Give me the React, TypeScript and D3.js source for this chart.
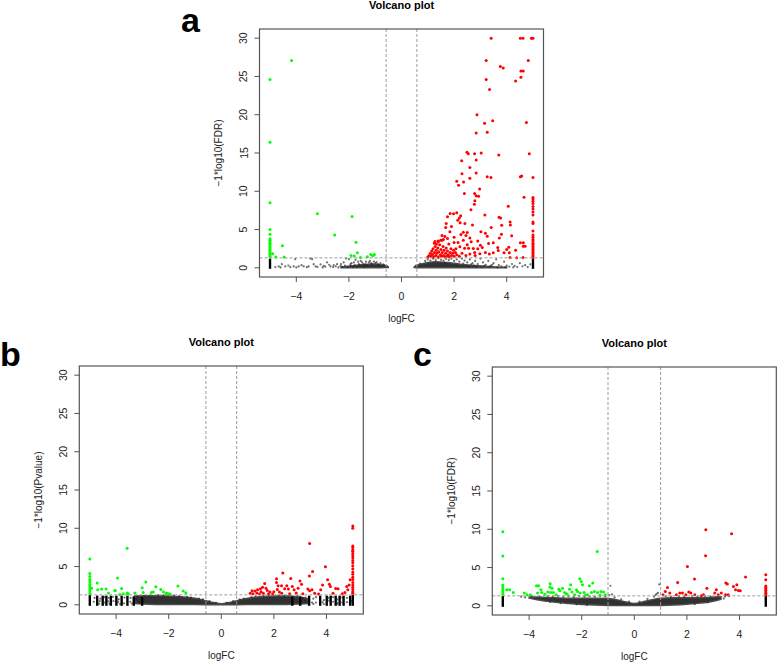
import React from "react";
import * as d3 from "d3";

// ---------------- DATA ----------------
const xTicks = [-4, -2, 0, 2, 4];
const yTicks = [0, 5, 10, 15, 20, 25, 30];
const titles = ["Volcano plot", "Volcano plot", "Volcano plot"];
const yLabels = ["\u22121*log10(FDR)", "\u22121*log10(Pvalue)", "\u22121*log10(FDR)"];
const xLabel = "logFC";
const letters = ["a", "b", "c"];
const fcCutoffs = [0.585, 0.585, 1.0];
const sigCutoff = 1.3;

// Panel a
const aGreen: number[][] = [
  [-4.18, 27.1], [-5, 24.6], [-5, 16.4], [-5, 8.5], [-5, 5.0], [-5, 4.4],
  [-5, 3.8], [-5, 3.6], [-5, 3.4], [-5, 3.2], [-5, 3.0], [-5, 2.8], [-5, 2.6], [-5, 2.4], [-5, 2.2], [-5, 2.0], [-5, 1.8], [-5, 1.6], [-5, 1.45],
  [-3.2, 7.05], [-1.88, 6.7], [-2.54, 4.3], [-1.73, 3.35], [-4.53, 2.87], [-4.9, 1.83], [-4.46, 1.4], [-4.78, 1.4],
  [-1.68, 1.96], [-1.92, 1.62], [-1.8, 1.53], [-1.56, 1.35], [-1.3, 1.44], [-1.17, 1.75], [-1.09, 1.57], [-1.03, 1.75],
];
const aRed: number[][] = [
  [3.41, 30], [4.52, 30], [4.62, 30], [4.94, 30], [5, 30],
  [3.22, 27.1], [4.82, 27.1], [3.76, 26.3], [3.87, 26.1], [4.54, 25.7], [4.63, 25.7], [3.22, 24.6], [4.54, 24.9], [4.34, 24.4], [3.35, 23.3],
  [2.87, 20.0], [3.16, 18.9], [3.47, 19.2], [4.75, 19.0], [2.84, 17.6], [3.26, 17.7],
  [2.49, 15.1], [2.54, 14.9], [2.78, 14.9], [3.03, 15.0], [3.7, 14.75], [4.86, 14.9], [2.29, 14.0], [2.84, 14.1], [2.6, 13.1], [2.3, 12.3], [2.84, 12.4],
  [2.1, 11.3], [2.17, 10.8], [2.36, 11.2], [2.6, 11.7], [3.26, 11.9], [3.4, 11.8], [4.52, 11.9], [4.57, 12.0], [5, 11.8],
  [2.97, 10.3], [2.39, 9.7], [2.78, 9.7], [2.84, 9.4], [2.79, 8.75], [2.77, 8.3], [2.93, 9.36], [4.66, 9.23],
  [4.06, 8.05], [2.64, 7.6], [1.85, 7.1], [1.98, 7.05], [2.1, 7.2], [2.25, 6.8], [2.2, 6.5], [3.17, 6.9], [3.71, 6.6], [3.77, 6.5], [1.75, 6.66],
  [4.13, 6.0], [4.14, 5.6], [2.7, 5.6], [2.41, 5.8], [3.41, 5.27], [2.14, 6.2], [2.23, 5.9], [1.7, 5.8], [1.68, 5.27], [1.9, 5.4], [3.81, 5.57],
  [3.02, 4.7], [3.19, 4.5], [3.26, 4.14], [3.8, 4.4], [3.72, 3.9], [2.26, 4.36], [2.35, 4.66], [2.45, 4.23], [1.54, 4.23], [1.59, 3.7], [1.49, 3.6], [1.75, 3.84], [1.84, 4.7],
  [4.19, 4.18], [4.52, 3.26], [4.63, 3.26], [4.63, 2.83], [4.7, 2.83], [1.39, 3.5], [1.27, 3.45], [1.33, 3.1], [3.49, 3.26], [3.31, 3.18],
  [3.0, 2.96], [3.07, 2.66], [2.9, 2.48], [2.73, 2.53], [2.55, 2.57], [2.4, 2.57], [2.22, 2.74], [2.07, 2.48],
  [3.66, 2.66], [4.0, 2.4], [4.08, 2.7], [4.34, 2.31], [4.1, 1.96], [3.9, 1.96], [3.68, 2.27],
  [3.49, 1.96], [3.34, 1.79], [3.19, 2.0], [2.98, 1.83], [2.78, 2.0], [4.62, 1.36], [4.38, 1.33], [4.13, 1.36],
  [5, 9.2], [5, 9.0], [5, 8.7], [5, 8.4], [5, 8.0], [5, 7.7], [5, 7.3], [5, 6.9], [5, 6.0], [5, 5.8], [5, 4.8], [5, 4.3], [5, 4.0],
  [5, 3.7], [5, 3.5], [5, 3.2], [5, 3.0], [5, 2.8], [5, 2.6], [5, 2.4], [5, 2.2], [5, 2.0], [5, 1.8], [5, 1.6], [5, 1.4],
  [1.0, 1.4], [1.05, 1.6], [1.1, 1.9], [1.12, 1.5], [1.15, 2.2], [1.18, 1.75], [1.2, 2.5], [1.22, 1.4], [1.25, 2.0], [1.28, 2.8],
  [1.3, 1.6], [1.32, 2.3], [1.35, 1.9], [1.38, 2.6], [1.4, 1.45], [1.42, 2.1], [1.45, 3.0], [1.48, 1.7], [1.5, 2.4], [1.52, 1.5],
  [1.55, 2.0], [1.58, 2.8], [1.6, 1.6], [1.62, 2.3], [1.65, 1.4], [1.68, 1.9], [1.7, 2.6], [1.72, 1.5], [1.75, 2.2], [1.78, 1.7],
  [1.8, 3.1], [1.82, 1.4], [1.85, 2.0], [1.88, 2.5], [1.9, 1.6], [1.95, 1.9], [1.98, 2.3], [2.0, 1.5], [2.05, 2.0], [2.1, 1.7],
  [2.15, 3.3], [2.2, 1.5], [2.3, 1.9], [2.35, 3.6], [2.45, 1.6], [2.5, 3.0], [2.6, 1.8], [2.65, 3.4], [2.8, 1.6], [2.9, 3.5],
  [1.4, 3.4], [1.55, 3.6], [1.25, 3.2], [1.65, 4.1], [2.0, 4.0], [2.0, 3.3], [2.5, 4.6], [2.6, 3.9],
];
const aBlack: number[][] = [
  [-4.67, 0.18], [-4.55, 0.48], [-4.42, 0.18], [-4.23, 0.09], [-4.04, 1.13], [-4.1, 0.18], [-3.91, 0.18], [-3.72, 0.18], [-3.53, 0.18],
  [-3.47, 1.22], [-3.4, 1.13], [-3.34, 0.48], [-3.27, 0.18], [-3.08, 0.44], [-2.96, 0.26], [-2.83, 0.7], [-2.7, 0.18], [-2.58, 0.35],
  [-2.45, 0.48], [-2.32, 0.26], [-2.2, 0.7], [-2.11, 1.22], [-2.0, 1.13], [-1.94, 0.48], [-1.81, 0.7], [-1.75, 1.05], [-1.62, 0.48],
  [-1.5, 0.7], [-1.37, 0.44], [-1.24, 0.7], [-1.12, 0.44], [-0.99, 0.61], [-0.86, 0.35], [-0.73, 0.26], [-0.61, 0.18],
  [-4.8, 0.1], [-4.6, 0.05], [-4.3, 0.3], [-4.0, 0.05], [-3.8, 0.35], [-3.6, 0.08], [-3.2, 0.12], [-3.0, 0.05], [-2.9, 0.15],
  [-2.75, 0.4], [-2.6, 0.1], [-2.5, 0.2], [-2.4, 0.05], [-2.3, 0.5], [-2.25, 0.12], [-2.15, 0.3], [-2.05, 0.08], [-1.95, 0.25],
  [-1.9, 0.6], [-1.85, 0.1], [-1.78, 0.35], [-1.7, 0.15], [-1.65, 0.8], [-1.58, 0.25], [-1.55, 0.9], [-1.45, 0.5], [-1.42, 0.1],
  [-1.35, 0.8], [-1.3, 0.3], [-1.2, 0.9], [-1.15, 0.6], [-1.05, 0.8], [-0.95, 0.75], [-0.9, 0.5], [-0.8, 0.6], [-0.7, 0.45],
  [-0.65, 0.35], [-0.55, 0.2],
  [0.55, 0.3], [0.7, 0.55], [0.9, 0.9], [1.0, 1.1], [1.1, 0.95], [1.2, 1.2], [1.3, 1.0], [1.4, 1.25], [1.5, 1.05], [1.6, 0.95],
  [1.7, 1.15], [1.8, 1.0], [1.9, 1.2], [2.0, 0.9], [2.1, 1.1], [2.2, 0.8], [2.3, 1.2], [2.4, 0.95], [2.5, 0.7], [2.6, 1.1],
  [2.7, 0.6], [2.8, 0.9], [2.9, 0.5], [3.0, 1.2], [3.1, 0.7], [3.2, 0.4], [3.3, 0.9], [3.4, 0.3], [3.5, 0.6], [3.6, 1.1],
  [3.7, 0.35], [3.8, 0.2], [3.9, 0.8], [4.0, 0.3], [4.1, 0.15], [4.2, 0.5], [4.3, 0.25], [4.4, 0.1], [4.5, 0.6], [4.6, 0.2],
  [4.7, 0.35], [4.8, 0.1], [4.9, 0.45], [3.05, 0.1], [3.35, 0.15], [3.65, 0.05], [3.95, 0.1], [4.25, 0.05], [2.55, 0.2],
  [2.75, 0.3], [2.85, 0.1], [3.15, 0.25], [3.45, 0.4], [1.65, 0.6], [2.35, 0.55], [2.65, 0.45],
];
const aCloudL: number[][] = [
  [-2.3, 0, 0.12], [-2.0, 0, 0.22], [-1.7, 0, 0.35], [-1.4, 0, 0.45], [-1.1, 0, 0.5], [-0.85, 0.01, 0.45], [-0.65, 0.02, 0.3], [-0.5, 0.04, 0.12],
];
const aCloudR: number[][] = [
  [0.48, 0.04, 0.12], [0.6, 0.01, 0.35], [0.8, 0, 0.55], [1.0, 0, 0.7], [1.3, 0, 0.8], [1.6, 0, 0.75], [2.0, 0, 0.6],
  [2.4, 0, 0.42], [2.8, 0, 0.3], [3.2, 0, 0.2], [3.6, 0, 0.12], [4.0, 0, 0.08],
];
const aStripes: number[][] = [[-5, 1.2], [5, 1.25]];

// Panel b
const bGreen: number[][] = [
  [-5, 5.98], [-5, 4.1], [-5, 3.7], [-5, 3.3], [-5, 3.0], [-5, 2.7], [-5, 2.4], [-5, 2.1], [-5, 1.8], [-5, 1.5],
  [-3.58, 7.4], [-3.95, 3.49], [-4.72, 2.84], [-4.93, 2.18], [-4.7, 1.96], [-4.55, 2.05], [-4.38, 2.05], [-4.29, 1.53],
  [-4.03, 1.87], [-3.79, 2.13], [-3.86, 1.35], [-3.58, 1.53], [-3.29, 1.53], [-3.01, 2.22], [-2.87, 2.97], [-2.97, 1.61],
  [-2.59, 1.66], [-2.49, 2.36], [-2.3, 2.0], [-2.2, 1.66], [-2.08, 1.53], [-2.0, 1.44], [-1.65, 2.45], [-1.45, 1.79],
  [-1.35, 1.57], [-3.54, 1.44], [-3.73, 1.44], [-2.66, 1.61], [-4.05, 1.83], [-2.1, 1.44], [-1.95, 1.4],
];
const bRed: number[][] = [
  [5, 10.3], [5, 10.0], [5, 7.7], [5, 7.5], [5, 7.2], [5, 7.0], [5, 6.7], [5, 6.4], [5, 6.1], [5, 5.8], [5, 5.5], [5, 5.1],
  [5, 4.7], [5, 4.3], [5, 4.0], [5, 3.6], [5, 3.3], [5, 2.9], [5, 2.6], [5, 2.3], [5, 2.0], [5, 1.7], [5, 1.5],
  [3.36, 8.0], [3.96, 4.97], [3.47, 4.36], [3.35, 3.75], [2.34, 4.15], [2.64, 3.44], [2.1, 3.4], [2.1, 2.92], [2.16, 2.49],
  [2.99, 3.1], [3.05, 2.7], [2.92, 2.18], [4.04, 3.27], [4.11, 2.7], [4.15, 2.4], [3.85, 2.58], [3.78, 1.96], [4.35, 2.13],
  [4.44, 2.09], [4.77, 2.4], [4.86, 2.58], [4.9, 3.27], [4.81, 1.96], [2.29, 2.49], [2.41, 2.09], [2.55, 2.05], [2.49, 2.49],
  [2.7, 2.4], [2.77, 1.96], [3.29, 2.05], [3.36, 1.83], [3.45, 1.96],
  [1.65, 2.79], [1.7, 2.18], [1.57, 2.31], [1.49, 2.09], [1.38, 1.96], [1.28, 1.79], [1.17, 1.83], [1.75, 1.87], [1.51, 1.7],
  [1.85, 1.66], [2.0, 1.7], [2.13, 2.0], [2.21, 1.66],
  [1.1, 1.5], [1.2, 1.45], [1.35, 1.55], [1.45, 1.4], [1.6, 1.5], [1.8, 1.45], [1.95, 1.4], [2.3, 1.5], [2.6, 1.45],
  [2.85, 1.55], [3.1, 1.45], [3.55, 1.5], [3.7, 1.4], [4.25, 1.5], [4.6, 1.45], [4.7, 1.6],
];
const bBlack: number[][] = [
  [-4.85, 0.4], [-4.6, 0.8], [-4.45, 0.3], [-4.28, 0.9], [-4.1, 0.5], [-3.9, 0.7], [-3.7, 0.2], [-3.45, 0.9], [-3.2, 1.05],
  [-3.15, 0.4], [-2.9, 1.15], [-2.7, 1.25], [-2.4, 1.28], [-2.2, 1.25], [-1.8, 1.2], [-1.6, 1.15], [-1.3, 1.05], [-1.15, 0.95],
  [-0.85, 0.8], [-0.7, 0.7], [-0.45, 0.5], [-0.2, 0.25], [0.2, 0.25], [0.45, 0.5], [0.7, 0.7], [0.85, 0.8], [1.15, 1.0],
  [1.3, 1.1], [1.6, 1.2], [1.8, 1.25], [2.2, 1.25], [2.4, 1.2], [2.6, 1.28], [2.9, 1.2], [3.1, 0.9], [3.2, 0.5], [3.5, 0.8],
  [3.6, 0.3], [3.9, 0.6], [4.08, 0.9], [4.25, 0.4], [4.42, 0.7], [4.6, 0.3], [4.78, 0.9], [4.95, 0.5],
  [-4.82, 0.9], [-4.62, 0.5], [-4.44, 1.0], [-4.3, 0.45], [-4.12, 1.05], [-3.92, 0.35], [-3.68, 0.95], [-3.46, 0.4],
  [-3.25, 0.75], [-3.1, 0.25], [-2.95, 0.6], [-3.4, 0.15], [-3.85, 0.1], [-4.25, 0.12], [-4.65, 0.15],
  [3.2, 0.95], [3.45, 0.3], [3.6, 1.0], [3.85, 0.35], [4.1, 0.55], [4.25, 1.0], [4.42, 0.25], [4.6, 0.95], [4.78, 0.35],
  [3.5, 0.12], [3.9, 0.1], [4.4, 0.08], [2.95, 0.3], [3.05, 0.75],
];
const bCloud: number[][] = [
  [-3.3, 0.15, 1.15], [-3.0, 0.1, 1.2], [-2.5, 0.05, 1.2], [-2.0, 0.04, 1.15], [-1.5, 0.03, 1.05], [-1.0, 0.02, 0.85],
  [-0.6, 0.01, 0.55], [-0.3, 0, 0.3], [0, 0, 0.15], [0.3, 0, 0.3], [0.6, 0.01, 0.55], [1.0, 0.02, 0.85], [1.5, 0.03, 1.05],
  [2.0, 0.04, 1.15], [2.5, 0.05, 1.15], [3.0, 0.1, 1.0], [3.3, 0.15, 0.8],
];
const bStripes: number[][] = [
  [-5, 1.3], [-4.72, 1.2], [-4.51, 1.2], [-4.37, 1.2], [-4.2, 1.2], [-3.99, 1.2], [-3.79, 1.2], [-3.57, 1.2], [-3.33, 1.1], [-3.01, 1.0],
  [2.7, 1.1], [3.0, 1.1], [3.34, 1.2], [3.76, 1.2], [4.01, 1.2], [4.16, 1.2], [4.35, 1.2], [4.5, 1.2], [4.65, 1.2], [4.9, 1.2], [5, 1.3],
];

// Panel c
const cGreen: number[][] = [
  [-5, 9.68], [-5, 6.5], [-5, 3.53], [-5, 2.7], [-5, 2.4], [-5, 2.1], [-5, 1.8], [-5, 1.5],
  [-4.85, 2.09], [-4.74, 2.09], [-4.6, 1.74], [-1.41, 7.1], [-4.18, 1.66], [-4.08, 1.44], [-3.95, 1.44], [-3.72, 2.62],
  [-3.64, 2.62], [-3.55, 2.09], [-3.52, 1.74], [-3.68, 1.66], [-3.2, 2.88], [-3.21, 2.45], [-3.13, 2.31], [-3.29, 1.79],
  [-3.18, 1.74], [-3.08, 1.74], [-2.87, 2.18], [-2.83, 1.96], [-2.97, 1.44], [-2.73, 2.31], [-2.65, 1.74], [-2.46, 2.18],
  [-2.37, 1.79], [-2.42, 2.75], [-2.27, 1.44], [-2.07, 3.53], [-2.02, 3.18], [-1.97, 2.75], [-2.16, 1.87], [-2.06, 1.66],
  [-1.91, 1.74], [-1.78, 1.44], [-1.71, 2.62], [-1.58, 2.97], [-1.63, 1.74], [-1.52, 1.87], [-1.4, 1.74], [-1.27, 1.87],
  [-1.17, 1.79], [-3.4, 1.5], [-2.55, 1.5], [-1.85, 1.4], [-1.1, 1.45], [-1.3, 1.4], [-2.2, 2.1], [-2.6, 1.6],
];
const cRed: number[][] = [
  [2.72, 9.94], [3.7, 9.42], [2.71, 6.54], [2.02, 5.14], [2.29, 3.49], [4.23, 3.75], [1.65, 3.05], [3.48, 2.97], [3.54, 2.84],
  [3.9, 2.75], [3.77, 2.53], [2.76, 2.31], [3.12, 2.09], [3.85, 2.09], [3.96, 2.0], [4.03, 1.96], [1.26, 2.4], [1.18, 1.87],
  [1.09, 1.44], [1.35, 1.66], [1.6, 1.44], [1.73, 1.66], [1.83, 1.66], [1.96, 1.44], [2.07, 1.79], [2.15, 1.66], [2.3, 1.44],
  [2.63, 1.44], [2.55, 1.31], [3.06, 1.66], [3.19, 1.44], [3.31, 1.66], [3.47, 1.44], [3.57, 1.44],
  [5, 4.06], [5, 3.4], [5, 2.6], [5, 2.4], [5, 2.2], [5, 2.0], [5, 1.8], [5, 1.6], [5, 1.4],
];
const cBlack: number[][] = [
  [-4.3, 1.2], [-4.15, 1.1], [-3.9, 1.25], [-3.6, 1.2], [-3.3, 1.25], [-3.1, 1.2], [-2.9, 1.28], [-2.7, 1.2], [-2.5, 1.25],
  [-2.3, 1.15], [-2.1, 1.28], [-1.9, 1.2], [-1.7, 1.25], [-1.5, 1.2], [-1.3, 1.25], [-1.1, 1.2], [-0.95, 1.4], [-0.91, 2.62],
  [-0.85, 1.5], [-0.75, 1.1], [-0.5, 0.85], [-0.2, 0.55], [0.2, 0.55], [0.5, 0.9], [0.75, 1.2], [0.85, 1.55], [0.95, 2.8],
  [0.9, 1.7], [0.8, 1.4], [1.2, 1.25], [1.4, 1.2], [1.7, 1.25], [1.9, 1.2], [2.2, 1.28], [2.4, 1.2], [2.7, 1.25], [2.9, 1.2],
  [3.2, 1.25], [3.45, 1.2], [3.6, 1.25], [-3.2, 0.5], [-2.8, 0.35], [-2.2, 0.2], [-1.8, 0.12], [2.3, 0.22], [2.8, 0.45], [3.4, 0.95],
];
const cCloud: number[][] = [
  [-4.0, 1.0, 1.15], [-3.7, 0.8, 1.15], [-3.4, 0.62, 1.1], [-3.0, 0.45, 1.05], [-2.5, 0.3, 1.0], [-2.0, 0.18, 1.0],
  [-1.5, 0.1, 1.0], [-1.0, 0.05, 0.95], [-0.6, 0.03, 0.75], [-0.3, 0.02, 0.5], [0, 0.02, 0.32], [0.3, 0.02, 0.5],
  [0.6, 0.03, 0.75], [1.0, 0.05, 1.0], [1.5, 0.1, 1.05], [2.0, 0.2, 1.05], [2.5, 0.35, 1.05], [3.0, 0.6, 1.15], [3.3, 0.85, 1.2],
];
const cStripes: number[][] = [[-5, 1.3], [5, 1.3]];

// ---------------- LAYOUT ----------------
const W = 778;
const H = 664;
const FONT = "'Liberation Sans', Arial, Helvetica, sans-serif";

const layouts = [
  { x0: 259.5, x1: 543.5, y0: 29, y1: 277, lx: 181, ly: 32 },
  { x0: 79.3, x1: 363.3, y0: 366, y1: 614, lx: 0, ly: 366 },
  { x0: 492.3, x1: 776.3, y0: 367, y1: 615, lx: 413, ly: 366 },
];

const panelData = [
  { green: aGreen, red: aRed, black: aBlack, clouds: [aCloudL, aCloudR], stripes: aStripes },
  { green: bGreen, red: bRed, black: bBlack, clouds: [bCloud], stripes: bStripes },
  { green: cGreen, red: cRed, black: cBlack, clouds: [cCloud], stripes: cStripes },
];

function Panel({ i }: { i: number }) {
  const L = layouts[i];
  const D = panelData[i];
  const x = d3.scaleLinear().domain([-5.4, 5.4]).range([L.x0, L.x1]);
  const y = d3.scaleLinear().domain([-1.2, 31.2]).range([L.y1, L.y0]);
  const area = d3
    .area<number[]>()
    .x((d) => x(d[0]))
    .y0((d) => y(d[1]))
    .y1((d) => y(d[2]))
    .curve(d3.curveMonotoneX);
  const fmt = d3.format("");
  const cx = (L.x0 + L.x1) / 2;
  const cy = (L.y0 + L.y1) / 2;
  const fc = fcCutoffs[i];
  return (
    <g>
      <text x={L.lx} y={L.ly} fontFamily={FONT} fontWeight="bold" fontSize={34} fill="#000">
        {letters[i]}
      </text>
      <text x={cx} y={L.y0 - 20} textAnchor="middle" fontFamily={FONT} fontWeight="bold" fontSize={11} fill="#000">
        {titles[i]}
      </text>
      {D.clouds.map((c, k) => (
        <path key={"c" + k} d={area(c) || ""} fill="#151515" stroke="#333" strokeWidth={1.4} opacity={0.88} />
      ))}
      {D.stripes.map((s, k) => (
        <line key={"s" + k} x1={x(s[0])} x2={x(s[0])} y1={y(0) + 1} y2={y(s[1])} stroke="#000" strokeWidth={2.4} />
      ))}
      {D.black.map((p, k) => (
        <circle key={"b" + k} cx={x(p[0])} cy={y(p[1])} r={1.1} fill="#222" opacity={0.65} />
      ))}
      {D.green.map((p, k) => (
        <circle key={"g" + k} cx={x(p[0])} cy={y(p[1])} r={1.5} fill="#00FF00" />
      ))}
      {D.red.map((p, k) => (
        <circle key={"r" + k} cx={x(p[0])} cy={y(p[1])} r={1.5} fill="#FF0000" />
      ))}
      {[-fc, fc].map((v, k) => (
        <line key={"v" + k} x1={x(v)} x2={x(v)} y1={L.y0} y2={L.y1} stroke="#9a9a9a" strokeWidth={1} strokeDasharray="3,2" />
      ))}
      <line x1={L.x0} x2={L.x1} y1={y(sigCutoff)} y2={y(sigCutoff)} stroke="#9a9a9a" strokeWidth={1} strokeDasharray="3,2" />
      <rect x={L.x0} y={L.y0} width={L.x1 - L.x0} height={L.y1 - L.y0} fill="none" stroke="#555" strokeWidth={1.2} />
      {xTicks.map((t) => (
        <g key={"xt" + t}>
          <line x1={x(t)} x2={x(t)} y1={L.y1} y2={L.y1 + 5} stroke="#555" strokeWidth={1} />
          <text x={x(t)} y={L.y1 + 18.5} textAnchor="middle" dominantBaseline="central" fontFamily={FONT} fontSize={10.5} fill="#222">
            {fmt(t)}
          </text>
        </g>
      ))}
      {yTicks.map((t) => (
        <g key={"yt" + t}>
          <line x1={L.x0} x2={L.x0 - 5} y1={y(t)} y2={y(t)} stroke="#555" strokeWidth={1} />
          <text
            x={L.x0 - 16}
            y={y(t)}
            textAnchor="middle"
            dominantBaseline="central"
            fontFamily={FONT}
            fontSize={10.5}
            fill="#222"
            transform={`rotate(-90, ${L.x0 - 16}, ${y(t)})`}
          >
            {t}
          </text>
        </g>
      ))}
      <text x={cx} y={L.y1 + 41} textAnchor="middle" dominantBaseline="central" fontFamily={FONT} fontSize={10} fill="#222">
        {xLabel}
      </text>
      <text
        x={L.x0 - 41}
        y={cy}
        textAnchor="middle"
        dominantBaseline="central"
        fontFamily={FONT}
        fontSize={10}
        fill="#222"
        transform={`rotate(-90, ${L.x0 - 41}, ${cy})`}
      >
        {yLabels[i]}
      </text>
    </g>
  );
}

export default function App() {
  return (
    <svg
      width={W}
      height={H}
      viewBox={`0 0 ${W} ${H}`}
      style={{ position: "absolute", left: 0, top: 0, background: "#fff" }}
    >
      <rect x={0} y={0} width={W} height={H} fill="#fff" />
      {[0, 1, 2].map((i) => (
        <Panel key={i} i={i} />
      ))}
    </svg>
  );
}
